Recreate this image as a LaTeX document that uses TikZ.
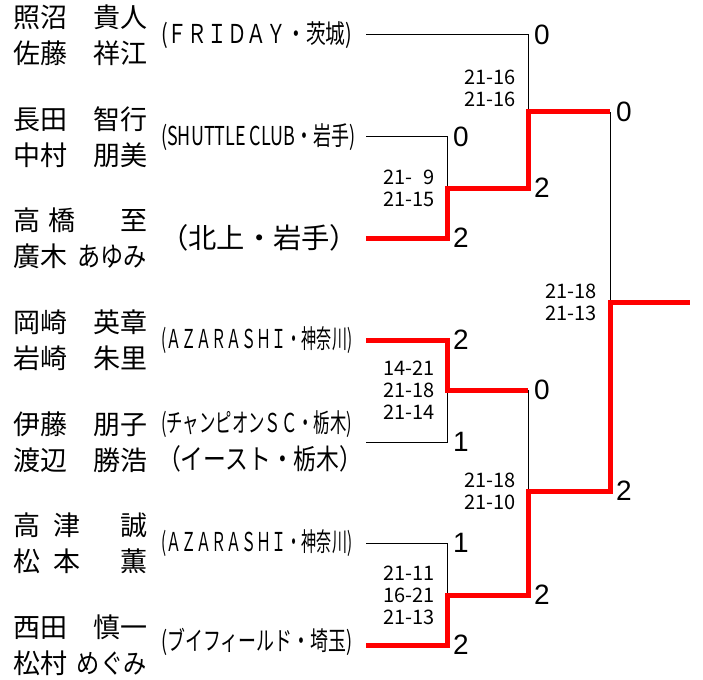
\documentclass[tikz,border=0pt]{standalone}
\usepackage{fontspec}
\usepackage{graphicx}
\setmainfont{Noto Sans CJK JP}
\newfontfamily\arialfont{Liberation Sans}
\usetikzlibrary{positioning}

\newcommand{\pname}[2]{\makebox[134pt]{#1\hfill#2}}
\newcommand{\club}[2]{\resizebox{#1}{\height}{#2}}
\newcommand{\kana}[1]{\scalebox{0.86}[1]{#1}}

\begin{document}
\begin{tikzpicture}[x=1pt,y=-1pt,
    player/.style={anchor=west,inner sep=0pt,align=left,font=\fontsize{27}{36}\selectfont},
    team/.style={anchor=west,inner sep=0pt,font=\fontsize{26}{26}\selectfont},
    bigteam/.style={anchor=west,inner sep=0pt,font=\fontsize{28}{28}\selectfont},
    games/.style={inner sep=0pt,align=right,font=\fontsize{20}{22}\selectfont},
    pts/.style={anchor=west,inner sep=0pt,xshift=6pt,font=\arialfont\fontsize{28}{28}\selectfont},
    lose/.style={line width=1pt},
    win/.style={line width=5pt,red}]
  \useasboundingbox (0,0) rectangle (703,679);

  % pairs
  \node[player] (PairA) at (13,35)  {\pname{照沼}{貴人}\\\pname{佐藤}{祥江}};
  \node[player] (PairB) at (13,137) {\pname{長田}{智行}\\\pname{中村}{朋美}};
  \node[player] (PairC) at (13,238) {\pname{高\hspace{8pt}橋}{至}\\\pname{廣木}{\kana{あゆみ}}};
  \node[player] (PairD) at (13,340) {\pname{岡崎}{英章}\\\pname{岩崎}{朱里}};
  \node[player] (PairE) at (13,442) {\pname{伊藤}{朋子}\\\pname{渡辺}{勝浩}};
  \node[player] (PairF) at (13,543) {\pname{高\hspace{13pt}津}{誠}\\\pname{松\hspace{13pt}本}{薫}};
  \node[player] (PairG) at (13,645) {\pname{西田}{慎一}\\\pname{松村}{\kana{めぐみ}}};

  % teams
  \node[team]    (TeamA)  at (161,35)  {\club{191pt}{(ＦＲＩＤＡＹ・茨城)}};
  \node[team]    (TeamB)  at (161,137) {\club{194pt}{(SHUTTLE CLUB・岩手)}};
  \node[bigteam] (TeamC)  at (160,238) {\club{198pt}{（北上・岩手）}};
  \node[team]    (TeamD)  at (161,340) {\club{191pt}{(ＡＺＡＲＡＳＨＩ・神奈川)}};
  \node[team]    (TeamE1) at (161,424) {\club{191pt}{(チャンピオンＳＣ・栃木)}};
  \node[bigteam] (TeamE2) at (158,459) {\club{204pt}{（イースト・栃木）}};
  \node[team]    (TeamF)  at (161,543) {\club{191pt}{(ＡＺＡＲＡＳＨＩ・神奈川)}};
  \node[team]    (TeamG)  at (161,642) {\club{191pt}{(ブイフィールド・埼玉)}};

  % bracket
  \coordinate (EntA) at (366,35);
  \coordinate (EntB) at (366,137);
  \coordinate (EntC) at (366,238);
  \coordinate (EntD) at (366,340);
  \coordinate (EntE) at (366,442);
  \coordinate (EntF) at (366,543);
  \coordinate (EntG) at (366,645);
  \coordinate (MatchA) at (447,188);
  \coordinate (MatchB) at (447,390);
  \coordinate (MatchC) at (447,595);
  \coordinate (MatchD) at (528,112);
  \coordinate (MatchE) at (528,491);
  \coordinate (MatchF) at (610,302);
  \coordinate (TopE)   at (MatchE |- MatchB);
  \coordinate (TopF)   at (MatchF |- MatchD);
  \coordinate (Champ)  at (690,302);

  \draw[lose] (EntA) -| (MatchD);
  \draw[lose] (EntB) -| (MatchA);
  \draw[lose] (EntE) -| (MatchB);
  \draw[lose] (EntF) -| (MatchC);
  \draw[lose] (TopE) -- (MatchE);
  \draw[lose] (TopF) -- (MatchF);
  \draw[win] (EntC) -| (MatchA) -| (MatchD) -- (TopF);
  \draw[win] (EntD) -| (MatchB) -- (TopE);
  \draw[win] (EntG) -| (MatchC) -| (MatchE) -| (MatchF) -- (Champ);

  % games won
  \node[pts] (PtsA)  at (MatchD |- EntA)   {0};
  \node[pts] (PtsB)  at (MatchA |- EntB)   {0};
  \node[pts] (PtsC)  at (MatchA |- EntC)   {2};
  \node[pts] (PtsAD) at (MatchD |- MatchA) {2};
  \node[pts] (PtsD)  at (MatchB |- EntD)   {2};
  \node[pts] (PtsE)  at (MatchB |- EntE)   {1};
  \node[pts] (PtsBE) at (TopE)             {0};
  \node[pts] (PtsF)  at (MatchC |- EntF)   {1};
  \node[pts] (PtsG)  at (MatchC |- EntG)   {2};
  \node[pts] (PtsCE) at (MatchE |- MatchC) {2};
  \node[pts] (PtsDF) at (TopF)             {0};
  \node[pts] (PtsEF) at (MatchF |- MatchE) {2};

  % game scores
  \node[games,left=12pt of MatchA] (GamesA) {21-\hphantom{0}9\\21-15};
  \node[games,left=12pt of MatchB] (GamesB) {14-21\\21-18\\21-14};
  \node[games,left=12pt of MatchC] (GamesC) {21-11\\16-21\\21-13};
  \node[games,left=12pt of MatchD,yshift=24pt] (GamesD) {21-16\\21-16};
  \node[games,left=12pt of MatchE] (GamesE) {21-18\\21-10};
  \node[games,left=13pt of MatchF] (GamesF) {21-18\\21-13};
\end{tikzpicture}
\end{document}
